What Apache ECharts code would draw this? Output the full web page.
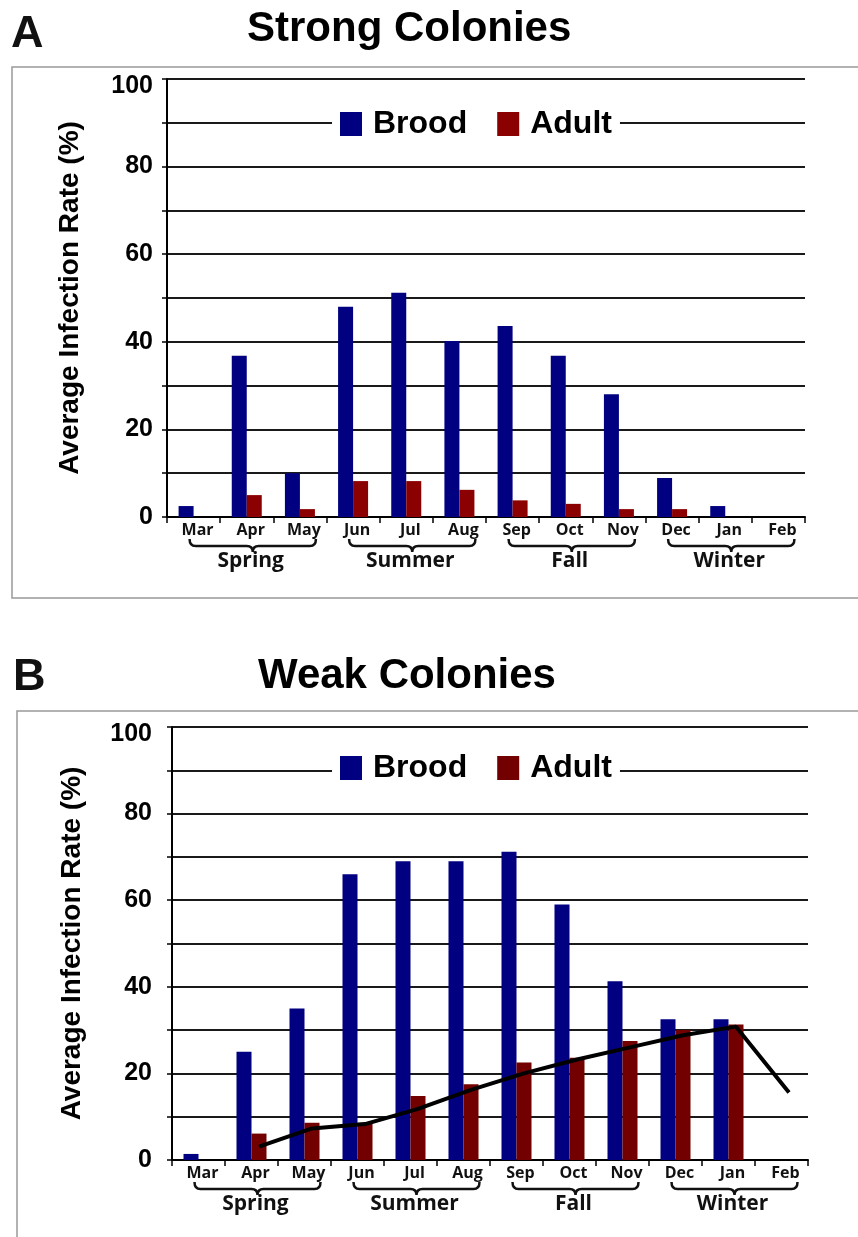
<!DOCTYPE html>
<html>
<head>
<meta charset="utf-8">
<script src="https://cdn.jsdelivr.net/npm/echarts@6/dist/echarts.min.js"></script>
<style>
html,body{margin:0;padding:0;background:#fff;}
#c{width:858px;height:1237px;}
</style>
</head>
<body>
<div id="c"></div>
<script>
// ---- data ----
const months = ['Mar','Apr','May','Jun','Jul','Aug','Sep','Oct','Nov','Dec','Jan','Feb'];
const seasons = [
  {name:'Spring', from:0, to:2},
  {name:'Summer', from:3, to:5},
  {name:'Fall',   from:6, to:8},
  {name:'Winter', from:9, to:11}
];
const strongBrood = [2.5, 36.8, 10.0, 48.0, 51.2, 40.2, 43.6, 36.8, 28.0, 8.9, 2.5, 0];
const strongAdult = [0, 5.0, 1.8, 8.2, 8.2, 6.2, 3.8, 3.0, 1.8, 1.8, 0, 0];
const weakBrood   = [1.4, 25.0, 35.0, 66.0, 69.0, 69.0, 71.2, 59.0, 41.3, 32.5, 32.5, 0];
const weakAdult   = [0, 6.1, 8.6, 8.6, 14.8, 17.5, 22.5, 23.6, 27.5, 30.0, 31.3, 0];
const weakTrend   = [null, 3.1, 7.3, 8.3, 11.8, 16.2, 20.0, 23.2, 26.0, 28.8, 30.8, 15.6];
const yTickLabels = [0, 20, 40, 60, 80, 100];

// ---- styles ----
const BROOD = '#000080';
const ADULT_A = '#8b0000';
const ADULT_B = '#730000';
const BAR_W = 15;
const SANS = '"Liberation Sans", Arial, sans-serif';
const LABEL_FONT = '"Open Sans", sans-serif';

const grids = [
  {left:167, top:79, width:638, height:438},
  {left:172, top:727, width:636, height:433}
];

function yAxisCfg(gi, margin, gap){
  return {
    type:'value', gridIndex:gi, min:0, max:100, interval:10,
    name:'Average Infection Rate (%)', nameLocation:'middle', nameGap:gap,
    nameTextStyle:{fontFamily:SANS, fontWeight:'bold', fontSize:28, color:'#000'},
    axisLine:{show:true, onZero:false, lineStyle:{color:'#000', width:2}},
    axisTick:{show:true, length:5, lineStyle:{color:'#000', width:1.5}},
    axisLabel:{margin:margin, fontFamily:SANS, fontWeight:'bold', fontSize:25, color:'#000',
      formatter:v => yTickLabels.indexOf(v) < 0 ? '' : (v === 100 ? '{top|' + v + '}' : String(v)),
      rich:{top:{fontFamily:SANS, fontWeight:'bold', fontSize:25, color:'#000', padding:[15,0,0,0]}}},
    splitLine:{show:true, lineStyle:{color:'#1a1a1a', width:2}}
  };
}
function xAxisCfg(gi){
  return {
    type:'category', gridIndex:gi, data:months,
    axisLine:{show:true, lineStyle:{color:'#000', width:2}},
    axisTick:{show:true, length:6, lineStyle:{color:'#000', width:1.5}},
    axisLabel:{margin:5, fontFamily:LABEL_FONT, fontWeight:'bold', fontSize:16, color:'#111', padding:[0,0,0,8]},
    splitLine:{show:false}
  };
}
function seasonSeries(xi, yi){
  return {
    type:'custom', xAxisIndex:xi, yAxisIndex:yi, silent:true, clip:false,
    data: seasons.map(s => [s.from, s.to, 0]),
    renderItem:function(params, api){
      const p0 = api.coord([api.value(0), 0]);
      const p1 = api.coord([api.value(1), 0]);
      const base = p0[1];
      const L = p0[0] - 4, R = p1[0] + 16, M = (L + R) / 2;
      const yT = base + 22, yL = base + 29, yC = base + 35;
      const d = `M${L},${yT} Q${L},${yL} ${L+6},${yL} L${M-6},${yL} Q${M},${yL} ${M},${yC} Q${M},${yL} ${M+6},${yL} L${R-6},${yL} Q${R},${yL} ${R},${yT}`;
      return {
        type:'group',
        children:[
          {type:'path', shape:{pathData:d}, style:{fill:'none', stroke:'#111', lineWidth:2.5}},
          {type:'text', style:{text:seasons[params.dataIndex].name, x:M - 2, y:base + 44,
            textAlign:'center', textVerticalAlign:'middle',
            font:'bold 21px "Open Sans", sans-serif', fill:'#111'}}
        ]
      };
    }
  };
}
function legendCfg(top, adultColor){
  return {
    left:332, top:top, orient:'horizontal', backgroundColor:'#fff',
    padding:[4,8,4,8], itemWidth:22, itemHeight:24, itemGap:30, icon:'rect',
    selectedMode:false,
    textStyle:{fontFamily:SANS, fontWeight:'bold', fontSize:32, color:'#000', padding:[0,0,0,6]},
    data:[{name:'Brood', itemStyle:{color:BROOD}}, {name:'Adult', itemStyle:{color:adultColor}}]
  };
}

const trendOffset = (BAR_W / 2) / (grids[1].width / months.length);
const trendData = weakTrend.map((v, i) => v == null ? null : [i + trendOffset, v]).filter(d => d);

const option = {
  animation:false,
  backgroundColor:'#fff',
  title:[
    {text:'A', left:11, top:12, padding:0, textStyle:{fontFamily:SANS, fontWeight:'bold', fontSize:45, color:'#111'}},
    {text:'Strong Colonies', left:247, top:8, padding:0, textStyle:{fontFamily:SANS, fontWeight:'bold', fontSize:42, color:'#000'}},
    {text:'B', left:13, top:655, padding:0, textStyle:{fontFamily:SANS, fontWeight:'bold', fontSize:45, color:'#111'}},
    {text:'Weak Colonies', left:258, top:655, padding:0, textStyle:{fontFamily:SANS, fontWeight:'bold', fontSize:42, color:'#000'}}
  ],
  graphic:[
    {type:'rect', z:-10, silent:true, shape:{x:12, y:67, width:870, height:531}, style:{fill:'none', stroke:'#999', lineWidth:1.5}},
    {type:'rect', z:-10, silent:true, shape:{x:17, y:711, width:870, height:560}, style:{fill:'none', stroke:'#999', lineWidth:1.5}}
  ],
  legend:[legendCfg(104, ADULT_A), legendCfg(748, ADULT_B)],
  grid:grids,
  xAxis:[
    xAxisCfg(0),
    xAxisCfg(1),
    {type:'value', gridIndex:1, min:-0.5, max:11.5, show:false}
  ],
  yAxis:[yAxisCfg(0, 14, 83), yAxisCfg(1, 20, 86)],
  series:[
    {name:'Brood', type:'bar', xAxisIndex:0, yAxisIndex:0, data:strongBrood, barWidth:BAR_W, barGap:'0%', itemStyle:{color:BROOD}},
    {name:'Adult', type:'bar', xAxisIndex:0, yAxisIndex:0, data:strongAdult, barWidth:BAR_W, barGap:'0%', itemStyle:{color:ADULT_A}},
    {name:'Brood', type:'bar', xAxisIndex:1, yAxisIndex:1, data:weakBrood, barWidth:BAR_W, barGap:'0%', itemStyle:{color:BROOD}},
    {name:'Adult', type:'bar', xAxisIndex:1, yAxisIndex:1, data:weakAdult, barWidth:BAR_W, barGap:'0%', itemStyle:{color:ADULT_B}},
    {name:'Trend', type:'line', xAxisIndex:2, yAxisIndex:1, data:trendData, showSymbol:false, symbol:'none',
      lineStyle:{color:'#000', width:4}, z:5},
    seasonSeries(0, 0),
    seasonSeries(1, 1)
  ]
};
const chart = echarts.init(document.getElementById('c'), null, {renderer:'canvas'});
chart.setOption(option);
</script>
</body>
</html>
